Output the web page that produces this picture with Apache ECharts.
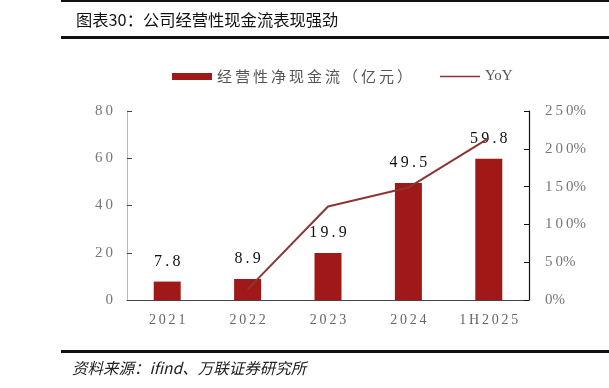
<!DOCTYPE html>
<html><head><meta charset="utf-8">
<script src="https://cdn.jsdelivr.net/npm/echarts@6/dist/echarts.min.js"></script>
<style>html,body{margin:0;padding:0;background:#fff}#c{width:609px;height:388px}</style>
</head><body><div id="c"></div>
<script>
const categories = ['2021', '2022', '2023', '2024', '1H2025'];
const cashFlow = [7.8, 8.9, 19.9, 49.5, 59.8];
const yoy = [null, 14.1, 123.6, 148.7, 214];
const leftTicks = [0, 20, 40, 60, 80];
const rightTicks = [0, 50, 100, 150, 200, 250];
const titleText = '图表30：公司经营性现金流表现强劲';
const sourceText = '资料来源：ifind、万联证券研究所';
const barName = '经营性净现金流（亿元）';
const lineName = 'YoY';

const sp = s => String(s).split('').join('\u2009');
const serif = '"Liberation Serif", "DejaVu Serif", serif';
const chart = echarts.init(document.getElementById('c'));
chart.setOption({
  animation: false,
  backgroundColor: '#fff',
  title: {
    text: titleText, left: 71, top: 7,
    textStyle: { fontFamily: '"Noto Sans CJK SC"', fontSize: 16.3, fontWeight: 'normal', color: '#111' }
  },
  graphic: [
    { type: 'rect', shape: { x: 61, y: 0, width: 548, height: 2 }, style: { fill: '#111' } },
    { type: 'rect', shape: { x: 61, y: 36, width: 548, height: 3 }, style: { fill: '#111' } },
    { type: 'rect', shape: { x: 61, y: 350, width: 548, height: 3 }, style: { fill: '#111' } },
    { type: 'text', left: 72, top: 360, style: { text: sourceText, font: 'italic 15.5px "Noto Sans CJK SC"', fill: '#222' } }
  ],
  legend: {
    left: 167, top: 64, itemGap: 28,
    itemWidth: 40, itemHeight: 7, symbolKeepAspect: true,
    textStyle: { fontFamily: '"Noto Sans CJK SC"', fontSize: 15, color: '#555' },
    formatter: n => n === lineName ? n : sp(n),
    data: [
      { name: barName, icon: 'rect' },
      { name: lineName, icon: 'path://M0,0H40V1.6H0Z', textStyle: { fontFamily: serif, fontSize: 15, color: '#555' } }
    ]
  },
  grid: { left: 127, right: 80, top: 111, bottom: 88 },
  xAxis: {
    type: 'category', data: categories,
    axisLine: { lineStyle: { color: '#444', width: 1 } },
    axisTick: { inside: true, length: 5, lineStyle: { color: '#888' } },
    axisLabel: { margin: 13, fontFamily: serif, fontSize: 14, color: '#666', formatter: v => sp(v) }
  },
  yAxis: [
    {
      type: 'value', min: leftTicks[0], max: leftTicks[leftTicks.length - 1], interval: 20,
      axisLine: { show: true, lineStyle: { color: '#bbb' } },
      axisTick: { show: true, inside: true, length: 5, lineStyle: { color: '#444' } },
      splitLine: { show: false },
      axisLabel: { margin: 14, fontFamily: serif, fontSize: 15, color: '#777', formatter: v => sp(v) }
    },
    {
      type: 'value', min: rightTicks[0], max: rightTicks[rightTicks.length - 1], interval: 50,
      position: 'right',
      axisLine: { show: true, lineStyle: { color: '#111', width: 1.2 } },
      axisTick: { show: true, inside: true, length: 5, lineStyle: { color: '#111' } },
      splitLine: { show: false },
      axisLabel: { margin: 16, fontFamily: serif, fontSize: 15, color: '#777', formatter: v => sp(v) + '%' }
    }
  ],
  series: [
    {
      name: barName, type: 'bar', data: cashFlow, barWidth: 27, yAxisIndex: 0,
      itemStyle: { color: '#A11818' },
      label: { show: true, position: 'top', distance: 12, fontFamily: serif, fontSize: 16, color: '#111', formatter: p => sp(p.value.toFixed(1)) }
    },
    {
      name: lineName, type: 'line', data: yoy, yAxisIndex: 1, symbol: 'none',
      lineStyle: { color: '#8B3535', width: 2 }, itemStyle: { color: '#8B3535' }, z: 3
    }
  ]
});
</script></body></html>
